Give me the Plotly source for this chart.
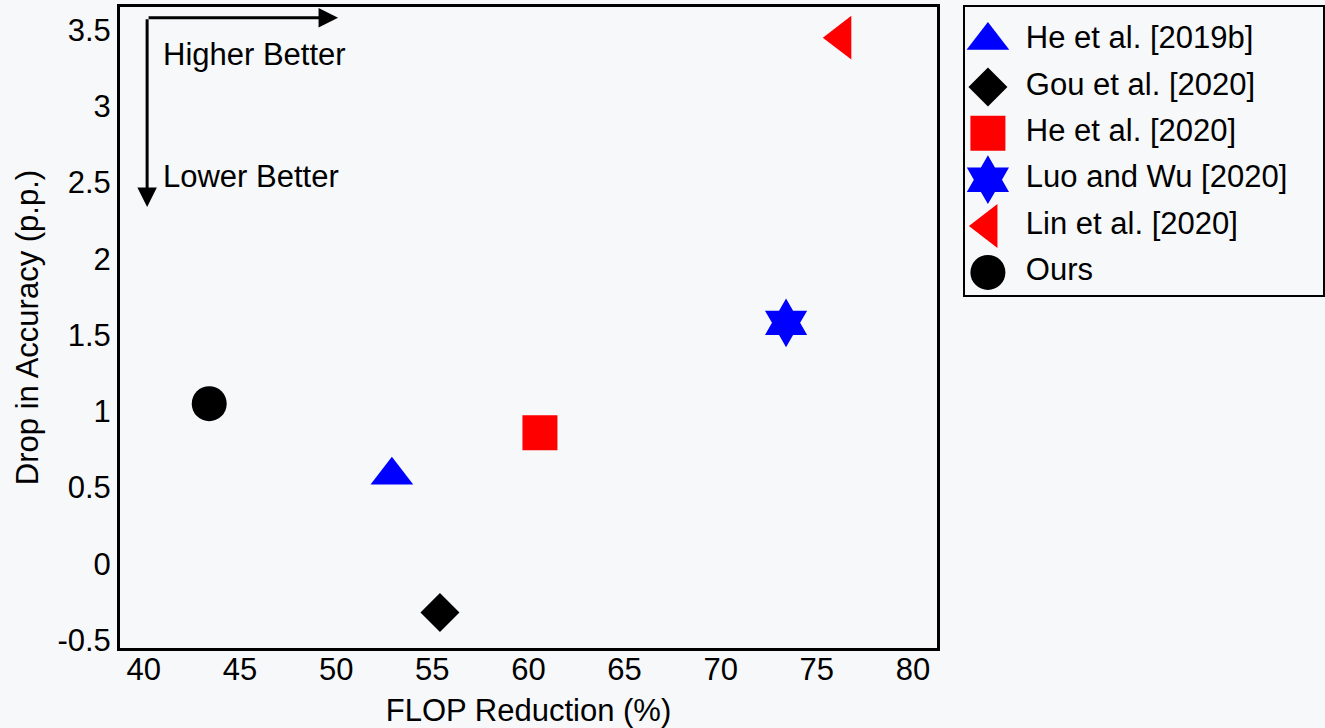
import plotly.graph_objects as go

# ---- data ----
methods = ["He et al. [2019b]", "Gou et al. [2020]", "He et al. [2020]",
           "Luo and Wu [2020]", "Lin et al. [2020]", "Ours"]
flop_reduction = [52.9, 55.4, 60.6, 73.4, 76.3, 43.4]
acc_drop = [0.58, -0.32, 0.86, 1.58, 3.45, 1.05]
symbols = ["triangle-up", "diamond", "square", "hexagram", "triangle-left", "circle"]
colors = ["#0000ff", "#000000", "#ff0000", "#0000ff", "#ff0000", "#000000"]
sizes = [37, 30, 35, 37, 38, 35]

x_ticks = [40, 45, 50, 55, 60, 65, 70, 75, 80]
x_labels = ["40", "45", "50", "55", "60", "65", "70", "75", "80"]
y_ticks = [-0.5, 0, 0.5, 1, 1.5, 2, 2.5, 3, 3.5]
y_labels = ["-0.5", "0", "0.5", "1", "1.5", "2", "2.5", "3", "3.5"]

W, H = 1325, 728
BG = "#f7f8fa"
FONT = "Liberation Sans, Arial, sans-serif"
FS = 31

fig = go.Figure()

# main scatter points
for m, x, y, s, c, sz in zip(methods, flop_reduction, acc_drop, symbols, colors, sizes):
    fig.add_trace(go.Scatter(x=[x], y=[y], mode="markers", name=m, showlegend=False,
                             marker=dict(symbol=s, color=c, size=sz, opacity=1, line=dict(width=0)),
                             xaxis="x", yaxis="y"))

# manual legend (large markers) in its own axes
rows = list(range(len(methods)))
fig.add_trace(go.Scatter(x=[0.064] * len(methods), y=rows, mode="markers", showlegend=False,
                         marker=dict(symbol=symbols, color=colors, size=sizes, opacity=1,
                                     line=dict(width=0)),
                         xaxis="x2", yaxis="y2", hoverinfo="skip"))
fig.add_trace(go.Scatter(x=[0.17] * len(methods), y=rows, mode="text", text=methods,
                         textposition="middle right", showlegend=False,
                         textfont=dict(size=FS, color="black", family=FONT),
                         xaxis="x2", yaxis="y2", hoverinfo="skip"))

# arrows
arrow_x0, arrow_y0 = 40.17, 3.58
fig.add_annotation(x=50.1, y=arrow_y0, ax=arrow_x0, ay=arrow_y0, xref="x", yref="y",
                   axref="x", ayref="y", text="", showarrow=True, arrowhead=2,
                   arrowsize=1.3, arrowwidth=3, arrowcolor="black", standoff=0, startstandoff=0)
fig.add_annotation(x=arrow_x0, y=2.34, ax=arrow_x0, ay=arrow_y0, xref="x", yref="y",
                   axref="x", ayref="y", text="", showarrow=True, arrowhead=2,
                   arrowsize=1.3, arrowwidth=3, arrowcolor="black", standoff=0, startstandoff=0)
fig.add_annotation(x=40.9, y=3.34, xref="x", yref="y", text="Higher Better", showarrow=False,
                   xanchor="left", yanchor="middle", font=dict(size=FS, color="black", family=FONT))
fig.add_annotation(x=40.9, y=2.54, xref="x", yref="y", text="Lower Better", showarrow=False,
                   xanchor="left", yanchor="middle", font=dict(size=FS, color="black", family=FONT))

fig.update_layout(
    width=W, height=H,
    margin=dict(l=0, r=0, t=0, b=0),
    paper_bgcolor=BG, plot_bgcolor=BG,
    font=dict(family=FONT, size=FS, color="black"),
    showlegend=False,
    xaxis=dict(domain=[120 / W, 937 / W], range=[38.76, 81.25], tickvals=x_ticks, ticktext=x_labels,
               showgrid=False, zeroline=False, showline=True, mirror=True, linewidth=3,
               linecolor="black", ticks="", automargin=False, ticklabelstandoff=-8,
               title=dict(text="FLOP Reduction (%)", standoff=16, font=dict(size=FS))),
    yaxis=dict(domain=[(H - 648) / H, (H - 7) / H], range=[-0.552, 3.651], tickvals=y_ticks,
               ticktext=y_labels, showgrid=False, zeroline=False, showline=True, mirror=True,
               linewidth=3, linecolor="black", ticks="", automargin=False,
               title=dict(text="Drop in Accuracy (p.p.)", standoff=10, font=dict(size=FS))),
    xaxis2=dict(domain=[965 / W, 1323 / W], range=[0, 1], anchor="y2", showgrid=False,
                zeroline=False, showticklabels=False, showline=True, mirror=True, linewidth=2,
                linecolor="black", ticks="", automargin=False),
    yaxis2=dict(domain=[(H - 295) / H, (H - 7) / H], range=[5.486, -0.722], anchor="x2",
                showgrid=False, zeroline=False, showticklabels=False, showline=True, mirror=True,
                linewidth=2, linecolor="black", ticks="", automargin=False),
)

fig.write_html("out.html", config={"displayModeBar": False},
               post_script="document.body.style.margin='0';document.body.style.overflow='hidden';")
